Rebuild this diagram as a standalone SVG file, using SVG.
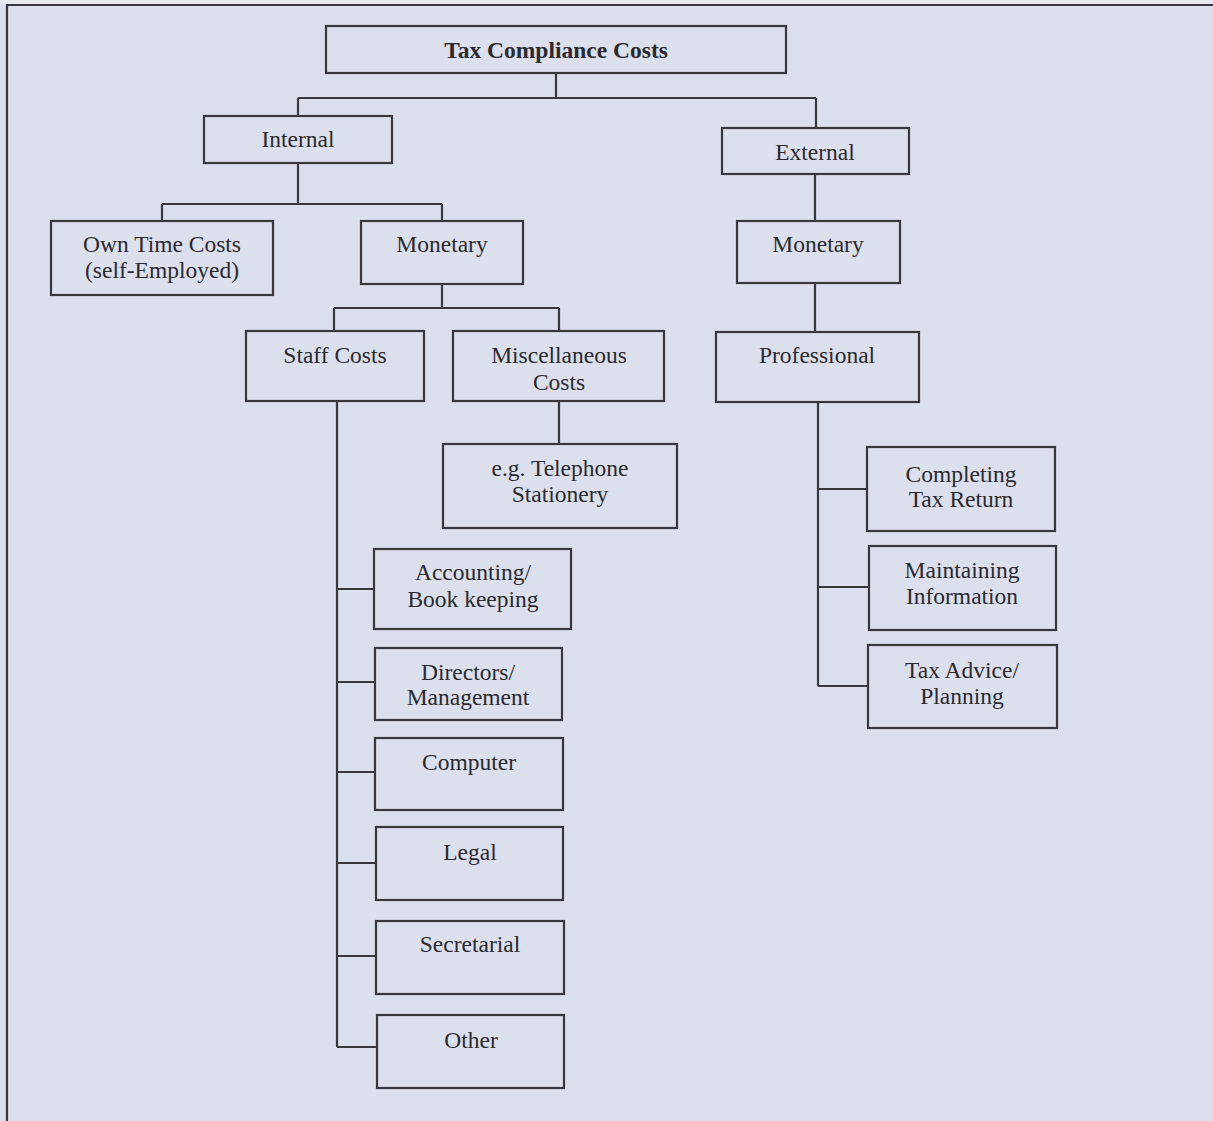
<svg xmlns="http://www.w3.org/2000/svg" width="1213" height="1121" viewBox="0 0 1213 1121">
<style>
.bg{fill:#dcdfec}
.box{fill:#dcdfec;stroke:#38383e;stroke-width:2.2}
.ln{fill:none;stroke:#38383e;stroke-width:2.2}
text{font-family:"Liberation Serif","Times New Roman",serif;font-size:23.5px;fill:#2a2a30;text-anchor:middle}
.b{font-weight:bold;font-size:23.5px}
</style>
<rect class="bg" x="0" y="0" width="1213" height="1121"/>
<rect x="0" y="0" width="1213" height="4" fill="#e6e8f1"/>
<g id="frame">
<path class="ln" d="M1213,5 H7 V1121"/>
</g>
<g id="connectors">
<path class="ln" d="M556,73 V98 M298,98 H816 M298,98 V116 M816,98 V128"/>
<path class="ln" d="M298,163 V204 M162,204 H442 M162,204 V221 M442,204 V221"/>
<path class="ln" d="M815,174 V221"/>
<path class="ln" d="M442,284 V308 M334,308 H559 M334,308 V331 M559,308 V331"/>
<path class="ln" d="M559,401 V444"/>
<path class="ln" d="M337,401 V1047 M337,589 H374 M337,682 H375 M337,772 H375 M337,863 H376 M337,956 H376 M337,1047 H377"/>
<path class="ln" d="M815,283 V332"/>
<path class="ln" d="M818,402 V686 M818,489 H867 M818,587 H869 M818,686 H868"/>
</g>
<g id="n-root"><rect class="box" x="326" y="26" width="460" height="47"/><text class="b" x="556" y="58">Tax Compliance Costs</text></g>
<g id="n-internal"><rect class="box" x="204" y="116" width="188" height="47"/><text x="298" y="147">Internal</text></g>
<g id="n-external"><rect class="box" x="722" y="128" width="187" height="46"/><text x="815" y="160">External</text></g>
<g id="n-owntime"><rect class="box" x="51" y="221" width="222" height="74"/><text x="162" y="252">Own Time Costs</text><text x="162" y="278">(self-Employed)</text></g>
<g id="n-monetary-int"><rect class="box" x="361" y="221" width="162" height="63"/><text x="442" y="252">Monetary</text></g>
<g id="n-monetary-ext"><rect class="box" x="737" y="221" width="163" height="62"/><text x="818" y="252">Monetary</text></g>
<g id="n-staff"><rect class="box" x="246" y="331" width="178" height="70"/><text x="335" y="363">Staff Costs</text></g>
<g id="n-misc"><rect class="box" x="453" y="331" width="211" height="70"/><text x="559" y="363">Miscellaneous</text><text x="559" y="390">Costs</text></g>
<g id="n-professional"><rect class="box" x="716" y="332" width="203" height="70"/><text x="817" y="363">Professional</text></g>
<g id="n-eg"><rect class="box" x="443" y="444" width="234" height="84"/><text x="560" y="476">e.g. Telephone</text><text x="560" y="502">Stationery</text></g>
<g id="n-accounting"><rect class="box" x="374" y="549" width="197" height="80"/><text x="473" y="580">Accounting/</text><text x="473" y="607">Book keeping</text></g>
<g id="n-directors"><rect class="box" x="375" y="648" width="187" height="72"/><text x="468" y="680">Directors/</text><text x="468" y="705">Management</text></g>
<g id="n-computer"><rect class="box" x="375" y="738" width="188" height="72"/><text x="469" y="770">Computer</text></g>
<g id="n-legal"><rect class="box" x="376" y="827" width="187" height="73"/><text x="470" y="860">Legal</text></g>
<g id="n-secretarial"><rect class="box" x="376" y="921" width="188" height="73"/><text x="470" y="952">Secretarial</text></g>
<g id="n-other"><rect class="box" x="377" y="1015" width="187" height="73"/><text x="471" y="1048">Other</text></g>
<g id="n-completing"><rect class="box" x="867" y="447" width="188" height="84"/><text x="961" y="482">Completing</text><text x="961" y="507">Tax Return</text></g>
<g id="n-maintaining"><rect class="box" x="869" y="546" width="187" height="84"/><text x="962" y="578">Maintaining</text><text x="962" y="604">Information</text></g>
<g id="n-taxadvice"><rect class="box" x="868" y="645" width="189" height="83"/><text x="962" y="678">Tax Advice/</text><text x="962" y="704">Planning</text></g>
</svg>
